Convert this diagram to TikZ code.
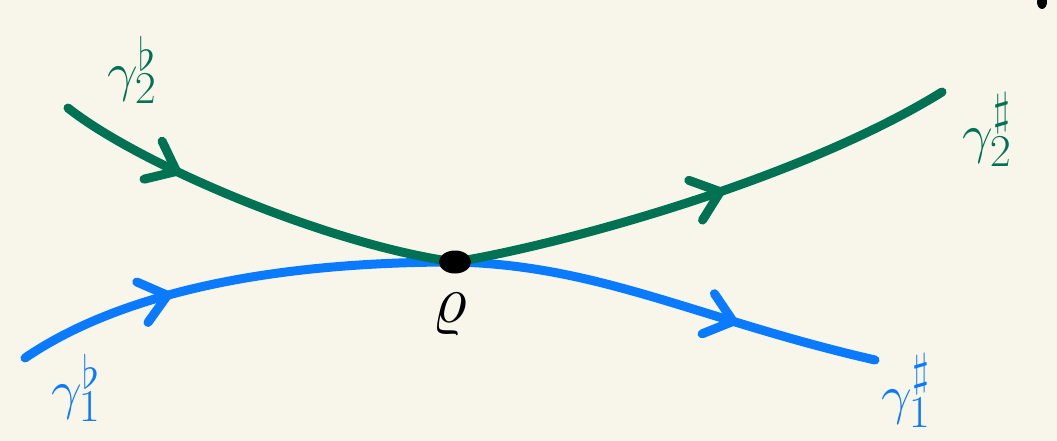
\documentclass[tikz,border=0pt]{standalone}
\usetikzlibrary{decorations.markings,shapes.geometric}
\definecolor{bg}{RGB}{248,246,235}
\definecolor{pgreen}{RGB}{0,114,84}
\definecolor{pblue}{RGB}{10,122,255}
\tikzset{
  curve/.style={line width=9pt, line cap=round, line join=round},
  chev/.style={decoration={markings, mark=at position #1 with {\draw[line width=9pt, line cap=round, line join=round] (-26pt,21pt) -- (0,0) -- (-26pt,-21pt);}}, postaction={decorate}},
  lab/.style={inner sep=0pt, font=\Huge, scale=2.2, transform shape}
}
\begin{document}
\begin{tikzpicture}[x=1pt,y=-1pt]
\fill[bg] (0,0) rectangle (1057,441);
\useasboundingbox (0,0) rectangle (1057,441);
\coordinate (g2s) at (68,108);
\coordinate (g2e) at (942,92);
\coordinate (b1s) at (25,358);
\coordinate (b1e) at (875,360);
\coordinate (pc) at (455,262);
% blue curve
\draw[pblue, curve, chev=0.35] (b1s) .. controls (110,300) and (250,262) .. (pc);
\draw[pblue, curve, chev=0.66] (pc) .. controls (600,265) and (700,320) .. (b1e);
% green curve
\draw[pgreen, curve, chev=0.3] (g2s) .. controls (140,165) and (330,245) .. (pc);
\draw[pgreen, curve, chev=0.53] (pc) .. controls (560,245) and (800,180) .. (g2e);
% point
\node[fill=black, ellipse, minimum width=32pt, minimum height=23pt, inner sep=0pt] (p) at (pc) {};
\node[lab, scale=1.25, text=black] (rho) at (450,314) {$\varrho$};
% labels
\node[lab, text=pgreen] (l2b) at (132,70) {$\gamma_2^\flat$};
\node[lab, text=pgreen] (l2s) at (987,130) {$\gamma_2^\sharp$};
\node[lab, text=pblue] (l1b) at (76,388) {$\gamma_1^\flat$};
\node[lab, text=pblue] (l1s) at (906,391) {$\gamma_1^\sharp$};
% stray mark top right
\fill[black] (1042,2) ellipse (5pt and 7pt);
\end{tikzpicture}
\end{document}
